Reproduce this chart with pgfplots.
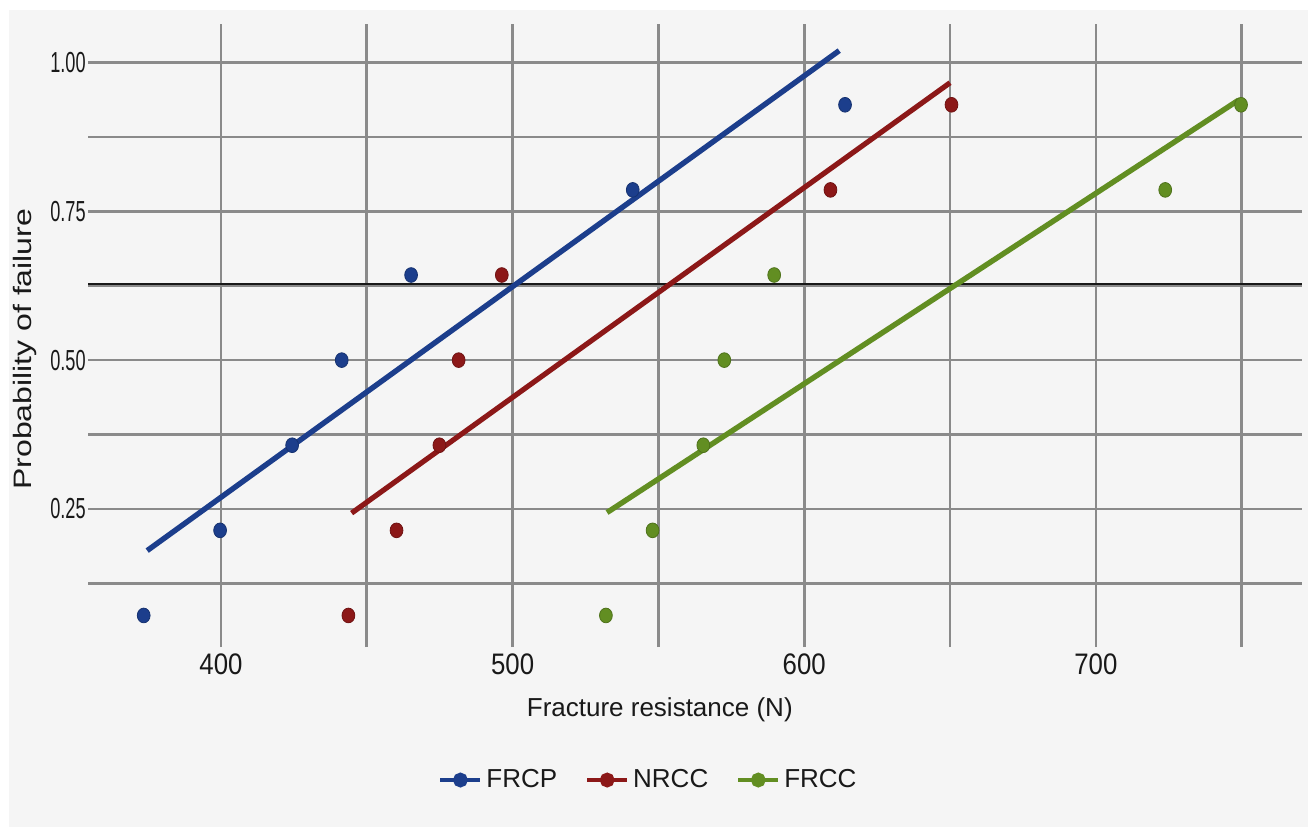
\documentclass[border=0pt]{standalone}
\usepackage{fontspec}
\setmainfont{Liberation Sans}
\usepackage{graphicx}
\usepackage{pgfplots}
\pgfplotsset{compat=1.18}
\definecolor{frcp}{RGB}{28,62,140}
\definecolor{nrcc}{RGB}{140,24,24}
\definecolor{frcc}{RGB}{98,142,34}
\definecolor{gridc}{RGB}{138,138,138}
\definecolor{bg}{RGB}{245,245,245}
\begin{document}
\begin{tikzpicture}
\path[use as bounding box, fill=white] (0,0) rectangle (654pt,-413.5pt);
\fill[bg] (4.5pt,-5pt) rectangle (654pt,-413.5pt);
\begin{axis}[
  at={(44pt,-323.5pt)}, anchor=south west,
  width=607pt, height=311.5pt, scale only axis,
  xmin=354.4, xmax=770.7, ymin=0.018, ymax=1.0647,
  axis line style={draw=none},
  major tick length=0pt,
  xtick={400,450,500,550,600,650,700,750},
  xticklabels={\scalebox{1}[1.15]{400},,\scalebox{1}[1.15]{500},,\scalebox{1}[1.15]{600},,\scalebox{1}[1.15]{700},},
  ytick={0.125,0.25,0.375,0.5,0.625,0.75,0.875,1},
  yticklabels={,\scalebox{0.72}[1.15]{0.25},,\scalebox{0.72}[1.15]{0.50},,\scalebox{0.72}[1.15]{0.75},,\scalebox{0.72}[1.15]{1.00}},
  xticklabel style={font=\fontsize{12.9}{14}\selectfont, text=black!90},
  yticklabel style={font=\fontsize{12.6}{14}\selectfont, inner sep=1pt, text=black!90},
  grid=major,
  grid style={gridc, line width=1.3pt},
  xlabel={Fracture resistance (N)},
  xlabel style={at={(axis description cs:0.471,-0.101)}, anchor=center, font=\fontsize{13}{15}\selectfont, text=black!90},
  ylabel={\scalebox{1.27}[1]{Probability of failure}},
  ylabel style={at={(axis description cs:-0.0519,0.478)}, anchor=center, font=\fontsize{12.6}{14}\selectfont, text=black!90},
  legend style={at={(axis description cs:0.4625,-0.2135)}, anchor=center, draw=none, fill=none,
    font=\fontsize{13}{14}\selectfont, text=black!90,
    /tikz/every even column/.append style={column sep=12pt}},
  legend columns=3,
  legend image code/.code={\draw[mark repeat=2,mark phase=2,#1] plot coordinates {(0pt,0pt) (10pt,0pt) (20pt,0pt)};},
]
\addlegendimage{frcp, line width=2pt, mark=*, mark size=2.7pt}
\addlegendentry{FRCP}
\addlegendimage{nrcc, line width=2pt, mark=*, mark size=2.7pt}
\addlegendentry{NRCC}
\addlegendimage{frcc, line width=2pt, mark=*, mark size=2.7pt}
\addlegendentry{FRCC}

\addplot[black!90, line width=1.2pt, forget plot] coordinates {(354.4,0.628) (770.7,0.628)};

\addplot[frcp, line width=2.7pt, forget plot] coordinates {(374.7,0.180) (612,1.020)};
\addplot[nrcc, line width=2.6pt, forget plot] coordinates {(444.8,0.243) (650,0.966)};
\addplot[frcc, line width=2.7pt, forget plot] coordinates {(532.4,0.244) (749,0.937)};

\addplot[only marks, mark=*, mark size=3.2pt, color=frcp, mark options={yscale=1.15, draw=frcp!80!black}, forget plot]
  coordinates {(373.5,0.071) (399.7,0.214) (424.4,0.357) (441.4,0.5) (465.2,0.643) (541.2,0.786) (614.0,0.929)};
\addplot[only marks, mark=*, mark size=3.2pt, color=nrcc, mark options={yscale=1.15, draw=nrcc!80!black}, forget plot]
  coordinates {(443.7,0.071) (460.2,0.214) (474.9,0.357) (481.5,0.5) (496.3,0.643) (609.0,0.786) (650.5,0.929)};
\addplot[only marks, mark=*, mark size=3.2pt, color=frcc, mark options={yscale=1.15, draw=frcc!80!black}, forget plot]
  coordinates {(532.0,0.071) (548.0,0.214) (565.4,0.357) (572.6,0.5) (589.7,0.643) (723.8,0.786) (749.8,0.929)};
\end{axis}
\end{tikzpicture}
\end{document}
